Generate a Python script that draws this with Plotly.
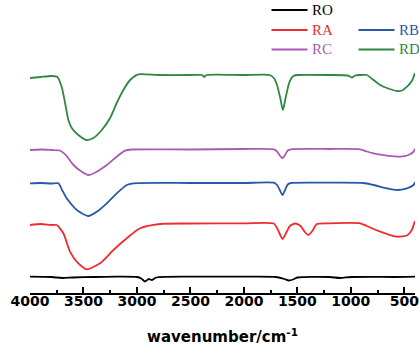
import plotly.graph_objects as go

# Wavenumber (cm^-1) and relative transmittance (arbitrary units, offset stacked)
RO_w = [4000, 3800, 3700, 3600, 3400, 3200, 3000, 2960, 2924, 2890, 2861, 2820, 2500, 2000, 1700, 1620, 1583, 1540, 1500, 1200, 1100, 1000, 800, 600, 400]
RO_t = [14.3, 14.0, 13.0, 13.5, 14.0, 14.3, 14.0, 12.5, 9.5, 12.0, 11.0, 13.5, 14.3, 14.3, 14.0, 12.0, 10.5, 11.5, 13.5, 14.0, 13.0, 14.0, 14.2, 14.0, 14.3]

RA_w = [4000, 3900, 3800, 3750, 3688, 3626, 3563, 3470, 3345, 3220, 3095, 2971, 2783, 2500, 2000, 1720, 1690, 1660, 1639, 1610, 1570, 1520, 1470, 1430, 1396, 1360, 1317, 1200, 912, 850, 787, 725, 662, 568, 475, 430, 413, 400]
RA_t = [66, 67, 66, 66, 57.7, 39.3, 29.3, 21.7, 27.7, 41, 52.7, 62.7, 67, 67.5, 67.7, 67.5, 63, 56, 52, 57, 65, 67.5, 65, 59, 56, 60, 67, 67.7, 67.7, 65, 62, 59.3, 57, 54.3, 55.5, 61, 66, 70]

RB_w = [4000, 3900, 3800, 3735, 3700, 3657, 3579, 3516, 3454, 3376, 3282, 3189, 3095, 3033, 2500, 2000, 1720, 1690, 1660, 1639, 1615, 1590, 1560, 1200, 884, 787, 662, 568, 475, 413, 400]
RB_t = [107.7, 108, 107.5, 107.7, 101, 92.7, 82.7, 77.7, 75, 79.3, 87.7, 97.7, 106, 107.7, 108, 108, 108.3, 106, 100, 96, 101, 106.5, 108, 108.3, 108, 106, 102.7, 101, 102.7, 106, 109]

RC_w = [4000, 3900, 3800, 3719, 3657, 3594, 3516, 3454, 3376, 3282, 3189, 3111, 3050, 2500, 2000, 1720, 1690, 1660, 1639, 1615, 1590, 1560, 1200, 912, 850, 787, 725, 662, 538, 460, 413, 400]
RC_t = [141, 141.5, 141, 140.5, 135, 126, 119.3, 116, 119.3, 126, 134.3, 140.3, 141.5, 141.5, 142, 141.7, 139.5, 135, 132.7, 136, 140.5, 141.7, 142, 141.7, 139.5, 137.7, 136.3, 135.3, 134.3, 136, 139.3, 142.5]

RD_w = [4000, 3900, 3800, 3744, 3704, 3672, 3641, 3610, 3548, 3470, 3407, 3329, 3251, 3189, 3127, 3064, 2987, 2800, 2500, 2390, 2370, 2350, 2000, 1760, 1720, 1690, 1660, 1635, 1610, 1580, 1560, 1539, 1500, 1200, 1030, 990, 960, 900, 849, 800, 725, 650, 568, 520, 475, 428, 400]
RD_t = [213, 214, 215, 214, 204.3, 188, 171, 163, 156, 151, 153, 161, 173, 188, 201, 211, 216.7, 216, 216, 216, 214, 216, 216, 216, 213, 206, 193, 181, 193, 207, 212, 215, 216, 216, 215.5, 213.5, 215.5, 216, 216, 212, 206, 202.5, 200, 200.5, 204.3, 210.3, 218]

tick_vals = [4000, 3500, 3000, 2500, 2000, 1500, 1000, 500]
tick_text = ["4000", "3500", "3000", "2500", "2000", "1500", "1000", "500"]
minor_vals = [3750, 3250, 2750, 2250, 1750, 1250, 750]

names = ["RO", "RA", "RB", "RC", "RD"]
colors = ["#000000", "#EE2B2F", "#2759A8", "#A95BB3", "#2F8740"]
series = [(RO_w, RO_t), (RA_w, RA_t), (RB_w, RB_t), (RC_w, RC_t), (RD_w, RD_t)]

W, H = 419, 355
ML, MR, MT, MB = 30, 4, 0, 62
PW, PH = W - ML - MR, H - MT - MB

fig = go.Figure()
for name, color, (w, t) in zip(names, colors, series):
    fig.add_trace(go.Scatter(
        x=w, y=t, mode="lines", name=name, showlegend=False,
        line=dict(color=color, width=1.8, shape="spline", smoothing=0.6),
    ))

# Legend laid out as in the reference: RO alone, then RA|RB, then RC|RD
legend_slots = {"RO": (0, 0), "RA": (0, 1), "RB": (1, 1), "RC": (0, 2), "RD": (1, 2)}
col_x = [271.5, 358.5]     # pixel left of legend line
row_y = [10, 30, 49.5]     # pixel centre of legend row
line_len = 36
def px_to_paper(px, py):
    return (px - ML) / PW, (H - MB - py) / PH

shapes, annotations = [], []
for name, color in zip(names, colors):
    c, r = legend_slots[name]
    x0, y0 = px_to_paper(col_x[c], row_y[r])
    x1, _ = px_to_paper(col_x[c] + line_len, row_y[r])
    xt, _ = px_to_paper(col_x[c] + line_len + 2, row_y[r])
    shapes.append(dict(type="line", xref="paper", yref="paper", x0=x0, x1=x1, y0=y0, y1=y0,
                       line=dict(color=color, width=2)))
    annotations.append(dict(text=name, xref="paper", yref="paper", x=xt, y=y0,
                            xanchor="left", yanchor="middle", showarrow=False,
                            font=dict(family="Liberation Serif", size=15, color=color)))

fig.update_layout(
    width=W, height=H,
    margin=dict(l=ML, r=MR, t=MT, b=MB, autoexpand=False),
    plot_bgcolor="white", paper_bgcolor="white",
    showlegend=False,
    shapes=shapes, annotations=annotations,
    xaxis=dict(
        range=[4000, 400], showgrid=False, zeroline=False,
        showline=True, linecolor="black", linewidth=1.5,
        tickmode="array", tickvals=tick_vals, ticktext=tick_text,
        ticks="inside", ticklen=6, tickwidth=1.5, tickcolor="black",
        minor=dict(tickvals=minor_vals, ticks="inside",
                   ticklen=3, tickwidth=1.5, tickcolor="black"),
        tickfont=dict(family="DejaVu Sans", size=14, color="black", weight="bold"),
        ticklabelstandoff=-6, ticklabeloverflow="allow",
        title=dict(text="wavenumber/cm<sup>-1</sup>",
                   font=dict(family="DejaVu Sans", size=15, color="black", weight="bold"),
                   standoff=24),
    ),
    yaxis=dict(range=[-2, 291], visible=False),
)

fig.write_html("out.html", config={"displayModeBar": False},
               post_script="document.body.style.margin='0px';document.body.style.overflow='hidden';")
